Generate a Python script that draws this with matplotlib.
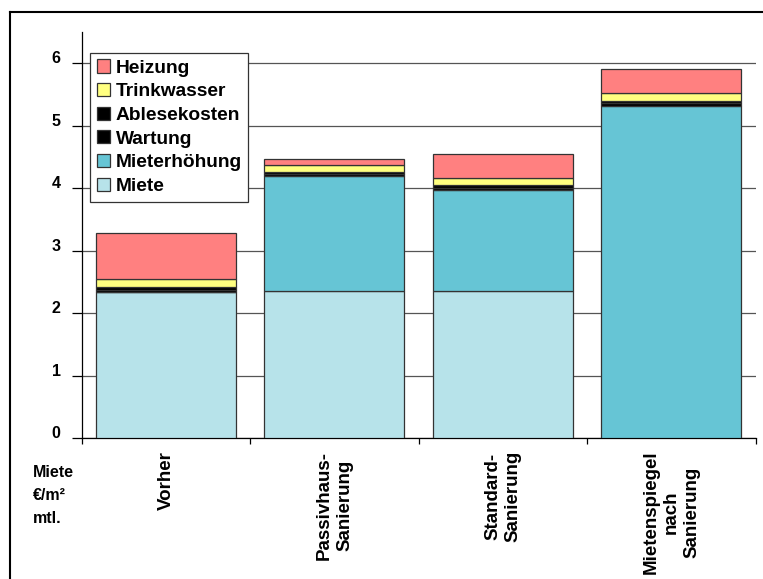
import matplotlib
matplotlib.use("Agg")
import matplotlib.pyplot as plt
from matplotlib.lines import Line2D
import numpy as np

plt.rcParams['font.family'] = ['Liberation Sans', 'DejaVu Sans']
plt.rcParams['font.weight'] = 'bold'

categories = ["Vorher", "Passivhaus-\nSanierung", "Standard-\nSanierung",
              "Mietenspiegel\nnach\nSanierung"]
miete = [2.34, 2.35, 2.35, 0.0]
mieterhoehung = [0.0, 1.85, 1.63, 5.32]
wartung = [0.04, 0.03, 0.03, 0.04]
ablesekosten = [0.04, 0.035, 0.035, 0.04]
trinkwasser = [0.13, 0.107, 0.12, 0.128]
heizung = [0.73, 0.09, 0.39, 0.373]

series = [
    ("Miete", miete, "#B7E3EA"),
    ("Mieterhöhung", mieterhoehung, "#66C5D5"),
    ("Wartung", wartung, "#000000"),
    ("Ablesekosten", ablesekosten, "#000000"),
    ("Trinkwasser", trinkwasser, "#FFFF80"),
    ("Heizung", heizung, "#FF8080"),
]
yticks = [0, 1, 2, 3, 4, 5, 6]

W, H = 763, 579
fig = plt.figure(figsize=(W / 100, H / 100), dpi=100)

ax_l, ax_r, ax_b, ax_t = 81.7, 755.5, 438.3, 32.0
ax = fig.add_axes([ax_l / W, (H - ax_b) / H, (ax_r - ax_l) / W, (ax_b - ax_t) / H])

x = np.arange(len(categories))
bottom = np.zeros(len(categories))
handles = []
for name, vals, col in series:
    vals = np.array(vals)
    b = ax.bar(x, vals, bottom=bottom, width=0.83, color=col,
               edgecolor="#333333", linewidth=0.9, zorder=3, label=name)
    handles.append(b)
    bottom += vals

ax.set_xlim(-0.5, len(categories) - 0.5)
ax.set_ylim(0, 6.5)
ax.set_yticks(yticks)
ax.set_yticklabels([str(v) for v in yticks], fontsize=11.5, fontweight='bold')
for lab in ax.get_yticklabels():
    lab.set_va('baseline')
ax.tick_params(axis='y', length=7.2, width=0.9, pad=8, direction='out')
ax.yaxis.grid(True, color="#555555", linewidth=0.9, zorder=0)
ax.set_axisbelow(True)

ax.set_xticks(x)
ax.set_xticklabels(categories, rotation=90, fontsize=13.5, fontweight='bold',
                   va='top', ha='center', linespacing=1.25)
ax.tick_params(axis='x', length=0, pad=9)
# boundary ticks on x axis
ax.set_xticks(np.arange(-0.5, len(categories), 1.0), minor=True)
ax.tick_params(axis='x', which='minor', length=4.5, width=0.9, direction='out')

for s in ['top', 'right']:
    ax.spines[s].set_visible(False)
ax.spines['left'].set_linewidth(0.9)
ax.spines['bottom'].set_linewidth(0.9)

leg_handles = handles[::-1]
leg_labels = [h.get_label() for h in leg_handles]
leg = ax.legend(leg_handles, leg_labels, loc='upper left',
                bbox_to_anchor=((90 - ax_l) / (ax_r - ax_l), (ax_b - 52.7) / (ax_b - ax_t)),
                borderaxespad=0, prop={'weight': 'bold', 'size': 13.8},
                frameon=True, fancybox=False, edgecolor="#333333", framealpha=1,
                handlelength=0.68, handleheight=0.68, handletextpad=0.3,
                labelspacing=0.33, borderpad=0.35)
leg.get_frame().set_linewidth(0.9)
leg.set_zorder(5)

fig.text(33 / W, 1 - 465 / H, "Miete\n€/m²\nmtl.", fontsize=11.5, fontweight='bold',
         va='top', ha='left', linespacing=1.65)

# outer frame
fig.add_artist(Line2D([10 / W, 10 / W], [0, 1 - 12 / H], transform=fig.transFigure,
                      color='black', linewidth=1.5))
fig.add_artist(Line2D([10 / W, 1.0], [1 - 12 / H, 1 - 12 / H], transform=fig.transFigure,
                      color='black', linewidth=1.5))

fig.savefig("out.png", dpi=100)
